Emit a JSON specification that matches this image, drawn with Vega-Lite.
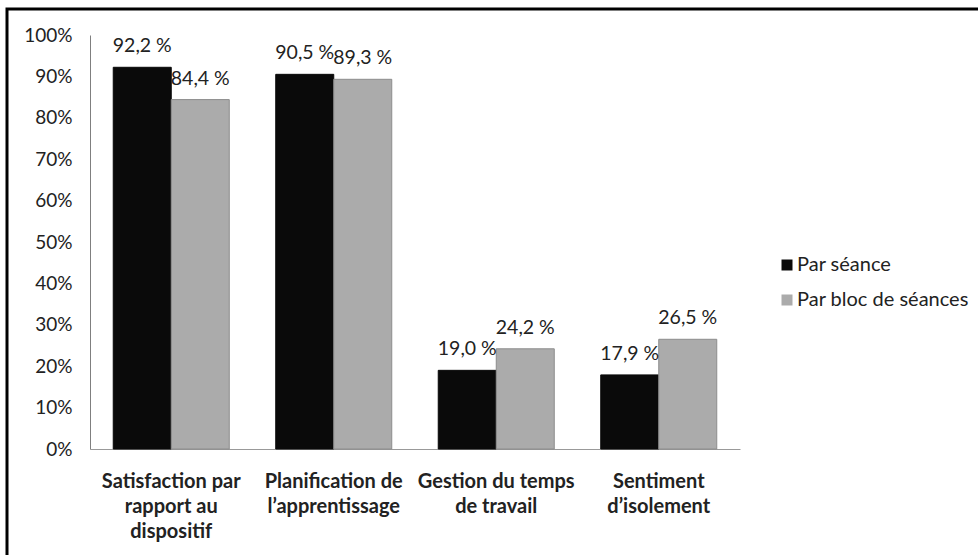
{
  "$schema": "https://vega.github.io/schema/vega-lite/v6.json",
  "autosize": "none",
  "width": 975,
  "height": 550,
  "padding": {"left": 7, "top": 9, "right": -4, "bottom": -4},
  "background": "white",
  "view": {"stroke": "#000000", "strokeWidth": 3},
  "config": {
    "font": "Lato"
  },
  "data": {
    "values": [
      {"category": "Satisfaction par|rapport au|dispositif", "series": "Par séance", "value": 92.2, "label": "92,2 %"},
      {"category": "Satisfaction par|rapport au|dispositif", "series": "Par bloc de séances", "value": 84.4, "label": "84,4 %"},
      {"category": "Planification de|l’apprentissage", "series": "Par séance", "value": 90.5, "label": "90,5 %"},
      {"category": "Planification de|l’apprentissage", "series": "Par bloc de séances", "value": 89.3, "label": "89,3 %"},
      {"category": "Gestion du temps|de travail", "series": "Par séance", "value": 19.0, "label": "19,0 %"},
      {"category": "Gestion du temps|de travail", "series": "Par bloc de séances", "value": 24.2, "label": "24,2 %"},
      {"category": "Sentiment|d’isolement", "series": "Par séance", "value": 17.9, "label": "17,9 %"},
      {"category": "Sentiment|d’isolement", "series": "Par bloc de séances", "value": 26.5, "label": "26,5 %"}
    ]
  },
  "encoding": {
    "x": {
      "field": "category",
      "type": "nominal",
      "sort": null,
      "scale": {"range": [83, 733], "paddingInner": 0.286, "paddingOuter": 0.143},
      "axis": {
        "orient": "bottom",
        "offset": -110,
        "title": null,
        "labelAngle": 0,
        "ticks": false,
        "domainColor": "#999999",
        "domainWidth": 1,
        "labelFontWeight": "bold",
        "labelFontSize": 20,
        "labelColor": "#222222",
        "labelPadding": 22,
        "labelLineHeight": 25,
        "labelBaseline": "top",
        "labelLimit": 0,
        "labelOverlap": false,
        "labelExpr": "split(datum.label, '|')"
      }
    },
    "xOffset": {
      "field": "series",
      "type": "nominal",
      "sort": ["Par séance", "Par bloc de séances"],
      "scale": {"paddingInner": 0}
    },
    "y": {
      "field": "value",
      "type": "quantitative",
      "scale": {"domain": [0, 100], "range": [440, 26]},
      "axis": {
        "orient": "left",
        "offset": -83,
        "title": null,
        "values": [0, 10, 20, 30, 40, 50, 60, 70, 80, 90, 100],
        "labelExpr": "datum.value + '%'",
        "ticks": false,
        "grid": false,
        "domainColor": "#7f7f7f",
        "domainWidth": 1,
        "labelFontSize": 19,
        "labelColor": "#222222",
        "labelPadding": 18
      }
    }
  },
  "layer": [
    {
      "mark": {"type": "bar", "strokeWidth": 1},
      "encoding": {
        "color": {
          "field": "series",
          "type": "nominal",
          "scale": {"domain": ["Par séance", "Par bloc de séances"], "range": ["#0a0a0a", "#ababab"]},
          "legend": {
            "title": null,
            "orient": "none",
            "legendX": 770,
            "legendY": 246,
            "symbolType": "square",
            "symbolSize": 121,
            "symbolStrokeWidth": 0,
            "labelFontSize": 20,
            "labelColor": "#222222",
            "labelOffset": 0,
            "labelLimit": 0,
            "rowPadding": 15,
            "padding": 0
          }
        },
        "stroke": {
          "field": "series",
          "type": "nominal",
          "scale": {"domain": ["Par séance", "Par bloc de séances"], "range": ["#0a0a0a", "#8c8c8c"]},
          "legend": null
        }
      }
    },
    {
      "mark": {"type": "text", "baseline": "alphabetic", "dy": -15, "fontSize": 19.5, "color": "#222222"},
      "encoding": {"text": {"field": "label"}}
    }
  ]
}
